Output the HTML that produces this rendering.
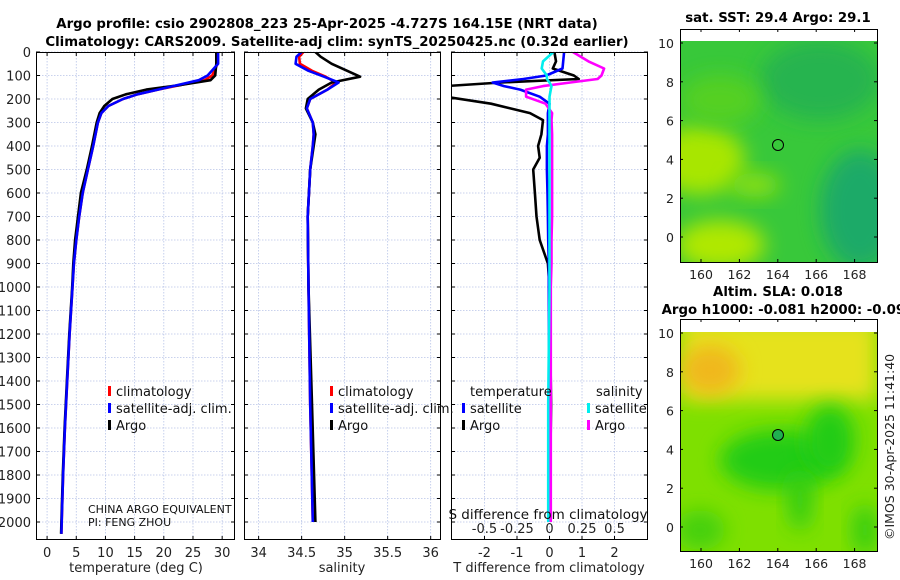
<!DOCTYPE html>
<html><head><meta charset="utf-8"><style>
body{margin:0;background:#fff;}
svg{display:block;font-family:"DejaVu Sans","Liberation Sans",sans-serif;}
</style></head><body>
<svg id="fig" width="900" height="580" viewBox="0 0 900 580" xmlns="http://www.w3.org/2000/svg">
<defs>
<filter id="bl" x="-50%" y="-50%" width="200%" height="200%"><feGaussianBlur stdDeviation="10"/></filter>
<clipPath id="c1"><rect x="36" y="52" width="199" height="488"/></clipPath>
<clipPath id="c2"><rect x="244" y="52" width="197" height="488"/></clipPath>
<clipPath id="c3"><rect x="451" y="52" width="197" height="488"/></clipPath>
<clipPath id="m1"><rect x="681" y="41" width="196" height="221"/></clipPath>
<clipPath id="m2"><rect x="681" y="332" width="196" height="219"/></clipPath>
</defs>
<g font-weight="bold" font-size="13.3" text-anchor="middle" fill="#000">
<text x="327" y="28">Argo profile: csio 2902808_223 25-Apr-2025 -4.727S 164.15E (NRT data)</text>
<text x="337" y="46">Climatology: CARS2009. Satellite-adj clim: synTS_20250425.nc (0.32d earlier)</text>
<text x="778" y="22">sat. SST: 29.4 Argo: 29.1</text>
<text x="778" y="296">Altim. SLA: 0.018</text>
<text x="788" y="314">Argo h1000: -0.081 h2000: -0.096</text>
</g>
<g id="plots"></g>
<g clip-path="url(#m1)">
<rect x="681" y="41" width="196" height="221" fill="#38c83a"/>
<ellipse cx="700" cy="160" rx="45" ry="35" fill="#a8e600" filter="url(#bl)"/>
<ellipse cx="720" cy="245" rx="45" ry="25" fill="#b0e800" filter="url(#bl)"/>
<ellipse cx="755" cy="185" rx="25" ry="12" fill="#8de010" filter="url(#bl)"/>
<ellipse cx="860" cy="210" rx="40" ry="60" fill="#1eaa68" filter="url(#bl)"/>
<ellipse cx="820" cy="80" rx="60" ry="40" fill="#28b450" filter="url(#bl)"/>
<ellipse cx="720" cy="100" rx="40" ry="25" fill="#55d020" filter="url(#bl)"/>
</g>
<g clip-path="url(#m2)">
<rect x="681" y="332" width="196" height="219" fill="#7ee000"/>
<rect x="681" y="320" width="196" height="80" fill="#e6e21c" filter="url(#bl)"/>
<ellipse cx="710" cy="370" rx="30" ry="25" fill="#f0b81c" filter="url(#bl)"/>
<ellipse cx="780" cy="460" rx="60" ry="30" fill="#22cc18" filter="url(#bl)"/>
<ellipse cx="830" cy="440" rx="25" ry="35" fill="#22cc18" filter="url(#bl)"/>
<ellipse cx="800" cy="500" rx="12" ry="30" fill="#30cc18" filter="url(#bl)"/>
<ellipse cx="865" cy="530" rx="12" ry="25" fill="#30cc18" filter="url(#bl)"/>
<ellipse cx="700" cy="530" rx="25" ry="20" fill="#44d010" filter="url(#bl)"/>
</g>
<g fill="none" stroke="#000" stroke-width="1">
<rect x="680.5" y="29.5" width="197" height="233"/>
<rect x="680.5" y="319.5" width="197" height="232"/>
<circle cx="778" cy="145" r="5.5"/>
<circle cx="778" cy="435" r="5.5" fill="#20b050"/>
</g>
<g id="maptx" font-size="12.5" fill="#222"></g>
<text x="0" y="0" transform="translate(894,540) rotate(-90)" font-size="12.5" fill="#222">©IMOS 30-Apr-2025 11:41:40</text>
</svg>
<script>
const tDepth=[0,50,100,120,140,160,180,200,230,260,300,400,500,600,700,800,900,1000,1200,1400,1600,1800,2000,2050];
const tArgo=[29,29,28.8,28,23,17,13.5,11.2,9.8,9,8.5,7.7,6.8,5.8,5.3,4.8,4.5,4.3,3.8,3.4,3.0,2.7,2.45,2.4];
const tClim=[29.2,29.2,28.3,27,23,19,15.5,13,10.5,9.3,8.7,7.9,7,6.1,5.5,5,4.6,4.35,3.85,3.45,3.05,2.75,2.5,2.45];
const tSat=[29.3,29.3,27.5,26,22.5,19,15.5,13,10.5,9.3,8.7,7.9,7,6.1,5.5,5,4.6,4.35,3.85,3.45,3.05,2.75,2.5,2.45];
const sDepth=[0,20,50,80,105,130,160,200,240,300,350,400,500,700,1000,1500,2000];
const sArgo=[34.66,34.72,34.85,35.03,35.18,34.85,34.7,34.57,34.55,34.63,34.66,34.64,34.6,34.57,34.58,34.62,34.66];
const sClim=[34.52,34.47,34.48,34.62,34.78,34.9,34.8,34.6,34.56,34.63,34.64,34.63,34.6,34.57,34.58,34.6,34.63];
const sSat=[34.5,34.44,34.43,34.58,34.76,34.93,34.8,34.6,34.56,34.63,34.64,34.63,34.6,34.57,34.58,34.6,34.63];
const dDepth=[0,40,70,100,115,130,145,160,190,220,260,290,350,400,450,500,600,700,800,900,1000,1500,2000];
const dTArgo=[0.15,0.2,0.1,0.75,0.9,-1.5,-3.2,-3.2,-3.2,-1.8,-0.6,-0.2,-0.25,-0.35,-0.3,-0.5,-0.45,-0.4,-0.3,-0.05,0,0.05,0];
const dTSat=[0.45,0.42,0.4,-0.1,-0.8,-1.75,-1.4,-0.9,-0.3,0,-0.05,-0.05,-0.05,-0.08,-0.08,-0.08,-0.06,-0.05,-0.04,-0.02,-0.02,-0.01,0];
const dSSat=[0.03,-0.05,-0.06,-0.02,-0.02,0,0.015,0.01,0,0,0,0,0,0,0,0,0,0,0,0,0,-0.01,-0.01];
const dSArgo=[0.18,0.3,0.42,0.4,0.37,0.16,-0.05,-0.18,-0.18,-0.03,0.02,0.015,0.02,0.02,0.02,0.02,0.02,0.02,0.015,0.015,0.01,0.01,0.01];
const tTicks=[0,5,10,15,20,25,30];
const sTicks=[34,34.5,35,35.5,36];
const dTTicks=[-2,-1,0,1,2];
const dSTicks=[-0.5,-0.25,0,0.25,0.5];
const depthTicks=[0,100,200,300,400,500,600,700,800,900,1000,1100,1200,1300,1400,1500,1600,1700,1800,1900,2000];
const lonTicks=[160,162,164,166,168];
const latTicks=[0,2,4,6,8,10];

const NS='http://www.w3.org/2000/svg';
const root=document.getElementById('plots');
function mk(tag,at,parent){const e=document.createElementNS(NS,tag);for(const k in at)e.setAttribute(k,at[k]);(parent||root).appendChild(e);return e;}
const Y=d=>52+d*0.235;
function panel(x0,x1,xmin,xmax){return v=>x0+(v-xmin)/(xmax-xmin)*(x1-x0);}
const X1=panel(36,235,-1.9,32.2), X2=panel(244,441,33.83,36.12), X3=panel(451,648,-3.03,3.03);
const XS=v=>X3(v*4);
function grid(x0,x1,ticks,X,name){
  const g=mk('g',{});
  
  
  ticks.forEach(t=>{mk('line',{x1:X(t),x2:X(t),y1:52,y2:540,stroke:'#b8c4e8','stroke-width':0.8,'stroke-dasharray':'1.5,1.5'},g);});
  depthTicks.forEach(d=>{mk('line',{x1:x0,x2:x1,y1:Y(d),y2:Y(d),stroke:'#b8c4e8','stroke-width':0.8,'stroke-dasharray':'1.5,1.5'},g);
    mk('line',{x1:x0,x2:x0+4,y1:Y(d),y2:Y(d),stroke:'#000'},g);mk('line',{x1:x1-4,x2:x1,y1:Y(d),y2:Y(d),stroke:'#000'},g);});
  ticks.forEach(t=>{mk('line',{x1:X(t),x2:X(t),y1:540,y2:536,stroke:'#000'},g);mk('line',{x1:X(t),x2:X(t),y1:52,y2:56,stroke:'#000'},g);});
}
grid(36,235,tTicks,X1,'temperature');
grid(244,441,sTicks,X2,'salinity');
grid(451,648,dTTicks,X3,'difference');
function line(X,xs,ds,col,name,clip,w){
  const p=mk('polyline',{points:xs.map((v,i)=>X(v).toFixed(1)+','+Y(ds[i]).toFixed(1)).join(' '),fill:'none',stroke:col,'stroke-width':w||2.6,'stroke-linejoin':'round','clip-path':'url(#'+clip+')'});
  
  
}
line(X1,tClim,tDepth,'#f00','temp-climatology-line','c1');
line(X1,tArgo,tDepth,'#000','temp-argo-line','c1');
line(X1,tSat,tDepth,'#00f','temp-satellite-line','c1');
line(X2,sClim,sDepth,'#f00','sal-climatology-line','c2');
line(X2,sArgo,sDepth,'#000','sal-argo-line','c2');
line(X2,sSat,sDepth,'#00f','sal-satellite-line','c2');
line(X3,dTArgo,dDepth,'#000','tdiff-argo-line','c3');
line(X3,dTSat,dDepth,'#00f','tdiff-satellite-line','c3');
line(XS,dSArgo,dDepth,'#f0f','sdiff-argo-line','c3');
line(XS,dSSat,dDepth,'#0ee','sdiff-satellite-line','c3');
[[36,235,'temperature'],[244,441,'salinity'],[451,648,'difference']].forEach(a=>{
  const r=mk('rect',{x:a[0]+0.5,y:52.5,width:a[1]-a[0]-1,height:487,fill:'none',stroke:'#000'});
  
  
});
function txt(x,y,s,name,anchor,size,col){
  const t=mk('text',{x:x,y:y,'font-size':size||13,'text-anchor':anchor||'middle',fill:col||'#222'});
  t.textContent=s;
  
  
  return t;
}
depthTicks.forEach(d=>txt(31,Y(d)+5,String(d),'depth-tick-label','end'));
tTicks.forEach(t=>txt(X1(t),557,String(t),'temp-tick-label'));
sTicks.forEach(t=>txt(X2(t),557,String(t),'sal-tick-label'));
dTTicks.forEach(t=>txt(X3(t),557,String(t),'tdiff-tick-label'));
dSTicks.forEach(t=>txt(XS(t),533,String(t),'sdiff-tick-label'));
txt(136,572,'temperature (deg C)','temp-axis-title');
txt(342,572,'salinity','sal-axis-title');
txt(549,572,'T difference from climatology','tdiff-axis-title');
txt(548,519,'S difference from climatology','sdiff-axis-title','middle',13.5,'#111');
txt(88,513,'CHINA ARGO EQUIVALENT','pi-institution','start',11,'#111');
txt(88,526,'PI: FENG ZHOU','pi-name','start',11,'#111');
function leg(x,y,col,label,name){
  const g=mk('g',{});
  
  
  mk('rect',{x:x,y:y-10,width:3,height:10,fill:col},g);
  const t=mk('text',{x:x+8,y:y,'font-size':13,fill:'#111'},g);t.textContent=label;
}
leg(108,396,'#f00','climatology','legend-climatology');
leg(108,413,'#00f','satellite-adj. clim.','legend-satellite-adj');
leg(108,430,'#000','Argo','legend-argo');
leg(330,396,'#f00','climatology','legend2-climatology');
leg(330,413,'#00f','satellite-adj. clim.','legend2-satellite-adj');
leg(330,430,'#000','Argo','legend2-argo');
txt(470,396,'temperature','legend-temperature-header','start',13,'#111');
leg(462,413,'#00f','satellite','legend-t-satellite');
leg(462,430,'#000','Argo','legend-t-argo');
txt(596,396,'salinity','legend-salinity-header','start',13,'#111');
leg(587,413,'#0ee','satellite','legend-s-satellite');
leg(587,430,'#f0f','Argo','legend-s-argo');
const mt=document.getElementById('maptx');
const LX=v=>701+(v-160)*19.2;
[[43,237,262,29],[333,527,551,319]].forEach((m,k)=>{
  const LY=v=>m[1]+(m[0]-m[1])*v/10;
  lonTicks.forEach(l=>{txt(LX(l),m[2]+17,String(l),'map-lon-label','middle',12.5);mt.appendChild(root.lastChild);
    mk('line',{x1:LX(l),x2:LX(l),y1:m[2],y2:m[2]-3,stroke:'#000'},mt);mk('line',{x1:LX(l),x2:LX(l),y1:m[3],y2:m[3]+3,stroke:'#000'},mt);});
  latTicks.forEach(l=>{txt(674,LY(l)+5,String(l),'map-lat-label','end',12.5);mt.appendChild(root.lastChild);
    mk('line',{x1:680,x2:683,y1:LY(l),y2:LY(l),stroke:'#000'},mt);mk('line',{x1:877,x2:874,y1:LY(l),y2:LY(l),stroke:'#000'},mt);});
});
</script>
</body></html>
